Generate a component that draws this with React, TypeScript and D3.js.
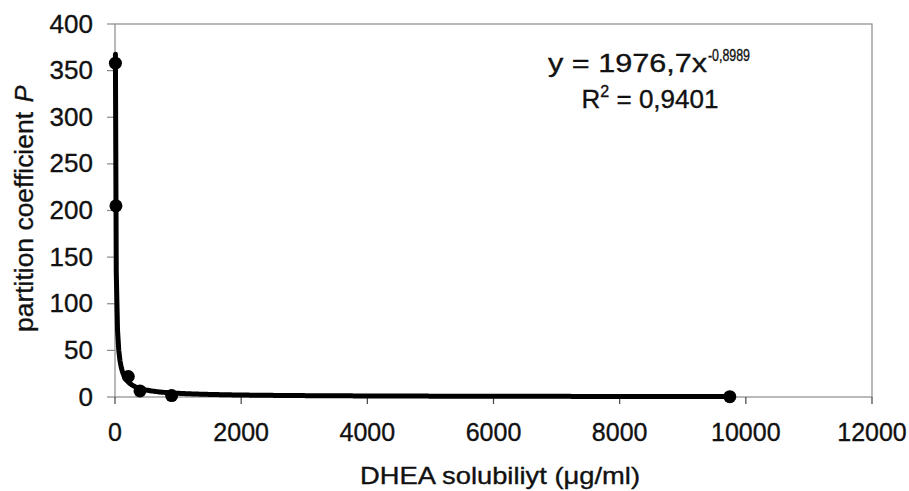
import React from "react";
import * as d3 from "d3";

// measured points (DHEA solubility vs partition coefficient)
const solubility = [6.5, 15, 211, 396, 898, 9746];
const partition = [358, 205, 22, 6.5, 1.5, 0.3];

// power trendline reported on the chart
const fitA = 1976.7;
const fitB = -0.8989;

const xTicks = [0, 2000, 4000, 6000, 8000, 10000, 12000];
const yTicks = [0, 50, 100, 150, 200, 250, 300, 350, 400];

const W = 909;
const H = 491;
const FONT = "'Liberation Sans', Arial, Helvetica, sans-serif";

function App() {
  const left = 115, right = 872, top = 24, bottom = 397;

  const x = d3.scaleLinear().domain([0, 12000]).range([left, right]);
  const y = d3.scaleLinear().domain([0, 400]).range([bottom, top]);

  const xMin = d3.min(solubility) as number;
  const xMax = d3.max(solubility) as number;
  // sample the fitted curve on a log grid so the steep part stays smooth
  const logs = d3.scaleLog().domain([xMin, xMax]);
  const trend = logs.ticks(400).filter(v => v >= xMin && v <= xMax);
  trend.unshift(xMin);
  trend.push(xMax);
  const fitLine = d3.line<number>()
    .x(v => x(v))
    .y(v => y(fitA * Math.pow(v, fitB)));

  const points = solubility.map((s, i) => ({ s, p: partition[i] }));
  const axisColor = "#8a8a8a";
  const textColor = "#111";
  // scanned original has slightly heavy type
  const heavy = { stroke: textColor, strokeWidth: 0.35 };

  return (
    <svg width={W} height={H} style={{ position: "absolute", left: 0, top: 0, background: "#fff" }}>
      {/* plot frame */}
      <rect x={left} y={top} width={right - left} height={bottom - top}
        fill="none" stroke={axisColor} strokeWidth={1.2} />

      {/* y axis ticks + labels */}
      {yTicks.map(t => (
        <g key={"y" + t}>
          <line x1={left - 8} x2={left} y1={y(t)} y2={y(t)} stroke={axisColor} strokeWidth={1.2} />
          <text x={93} y={y(t) + 8.5} textAnchor="end" fontFamily={FONT} fontSize={26} fill={textColor} {...heavy}>{t}</text>
        </g>
      ))}

      {/* x axis ticks + labels */}
      {xTicks.map(t => (
        <g key={"x" + t}>
          <line x1={x(t)} x2={x(t)} y1={bottom} y2={bottom + 7} stroke="#444" strokeWidth={1.2} />
          <text x={x(t)} y={441} textAnchor="middle" fontFamily={FONT} fontSize={25} fill={textColor} {...heavy}>{t}</text>
        </g>
      ))}

      {/* trendline */}
      <path d={fitLine(trend) || ""} fill="none" stroke="#000" strokeWidth={5} strokeLinejoin="round" strokeLinecap="round" />

      {/* data points */}
      {points.map((d, i) => (
        <circle key={i} cx={x(d.s)} cy={y(d.p)} r={6.5} fill="#000" />
      ))}

      {/* equation */}
      <text x={548} y={72} fontFamily={FONT} fontSize={26} fill={textColor} {...heavy}
        textLength={159} lengthAdjust="spacingAndGlyphs">y = 1976,7x</text>
      <text x={708} y={61} fontFamily={FONT} fontSize={16} fill={textColor} {...heavy}
        textLength={42} lengthAdjust="spacingAndGlyphs">-0,8989</text>
      <text x={650} y={108} textAnchor="middle" fontFamily={FONT} fontSize={26} fill={textColor} {...heavy}>
        R<tspan dy={-11} fontSize={16}>2</tspan><tspan dy={11}> = 0,9401</tspan>
      </text>

      {/* axis titles */}
      <text transform={`translate(33,222) rotate(-90)`} textAnchor="middle" fontFamily={FONT} fontSize={25} fill={textColor} {...heavy}
        textLength={220} lengthAdjust="spacingAndGlyphs">partition coefficient</text>
      <text transform={`translate(33,94) rotate(-90)`} textAnchor="middle" fontFamily={FONT} fontSize={25} fontStyle="italic" fill={textColor} {...heavy}>P</text>
      <text x={500} y={484} textAnchor="middle" fontFamily={FONT} fontSize={24} fill={textColor} {...heavy}
        textLength={280} lengthAdjust="spacingAndGlyphs">DHEA solubiliyt (μg/ml)</text>
    </svg>
  );
}

export default App;
